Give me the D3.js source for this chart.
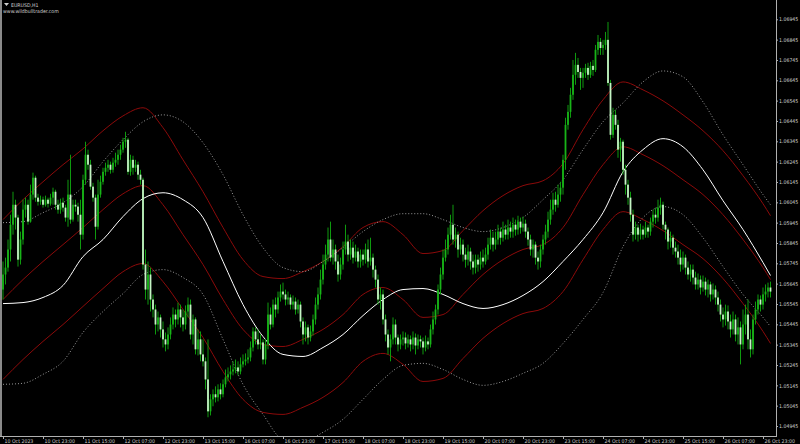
<!DOCTYPE html>
<html><head><meta charset="utf-8">
<script src="https://cdn.jsdelivr.net/npm/d3@7"></script>
<style>html,body{margin:0;padding:0;background:#000;overflow:hidden}</style>
</head><body><svg id="c" width="800" height="444"></svg>
<script>
const closes=[1.05690,1.05724,1.05813,1.05935,1.06033,1.05970,1.05763,1.05862,1.06009,1.06033,
1.05950,1.06083,1.06166,1.06068,1.06048,1.06058,1.06033,1.06058,1.06038,1.06068,
1.06097,1.06033,1.06009,1.06043,1.06019,1.05970,1.06083,1.05960,1.06033,1.06024,
1.05984,1.05886,1.06156,1.06279,1.06230,1.06122,1.06068,1.05925,1.06083,1.06146,
1.06195,1.06215,1.06230,1.06205,1.06240,1.06254,1.06279,1.06304,1.06343,1.06353,
1.06195,1.06254,1.06215,1.06230,1.06181,1.06156,1.05739,1.05616,1.05690,1.05567,
1.05518,1.05444,1.05479,1.05420,1.05371,1.05346,1.05395,1.05444,1.05493,1.05469,
1.05518,1.05479,1.05444,1.05508,1.05542,1.05395,1.05469,1.05322,1.05371,1.05297,
1.05263,1.05174,1.05017,1.05076,1.05101,1.05086,1.05125,1.05101,1.05150,1.05184,
1.05199,1.05213,1.05223,1.05233,1.05213,1.05248,1.05263,1.05272,1.05282,1.05331,
1.05410,1.05371,1.05346,1.05356,1.05272,1.05346,1.05493,1.05444,1.05542,1.05518,
1.05577,1.05606,1.05592,1.05567,1.05577,1.05542,1.05557,1.05518,1.05542,1.05459,
1.05395,1.05430,1.05380,1.05410,1.05469,1.05542,1.05592,1.05665,1.05739,1.05788,
1.05862,1.05773,1.05813,1.05754,1.05690,1.05739,1.05813,1.05852,1.05788,1.05822,
1.05773,1.05803,1.05754,1.05788,1.05763,1.05813,1.05754,1.05773,1.05714,1.05665,
1.05567,1.05592,1.05469,1.05395,1.05331,1.05371,1.05444,1.05380,1.05346,1.05371,
1.05380,1.05351,1.05371,1.05346,1.05380,1.05341,1.05371,1.05361,1.05331,1.05361,
1.05346,1.05420,1.05469,1.05518,1.05616,1.05690,1.05773,1.05813,1.05886,1.05935,
1.05862,1.05886,1.05813,1.05837,1.05788,1.05763,1.05803,1.05754,1.05724,1.05763,
1.05739,1.05773,1.05754,1.05788,1.05837,1.05871,1.05837,1.05862,1.05901,1.05871,
1.05911,1.05886,1.05921,1.05901,1.05935,1.05911,1.05950,1.05921,1.05940,1.05901,
1.05862,1.05813,1.05837,1.05773,1.05754,1.05813,1.05862,1.05901,1.05960,1.06009,
1.06058,1.06033,1.06083,1.06117,1.06254,1.06426,1.06490,1.06574,1.06672,1.06721,
1.06686,1.06657,1.06682,1.06706,1.06672,1.06716,1.06696,1.06795,1.06834,1.06804,
1.06819,1.06844,1.06632,1.06377,1.06475,1.06426,1.06304,1.06343,1.06205,1.06132,
1.06068,1.05984,1.05886,1.05921,1.05886,1.05911,1.05886,1.05921,1.05901,1.05950,
1.05984,1.05970,1.06019,1.06033,1.05935,1.05911,1.05852,1.05871,1.05822,1.05803,
1.05773,1.05739,1.05773,1.05724,1.05690,1.05714,1.05675,1.05641,1.05665,1.05626,
1.05655,1.05616,1.05641,1.05592,1.05616,1.05577,1.05542,1.05493,1.05469,1.05508,
1.05459,1.05420,1.05469,1.05395,1.05430,1.05346,1.05444,1.05493,1.05371,1.05322,
1.05469,1.05518,1.05567,1.05542,1.05592,1.05606,1.05626,1.05606];
const opens=[1.05616,1.05690,1.05724,1.05813,1.05935,1.06033,1.05970,1.05763,1.05862,1.06009,
1.06033,1.05950,1.06083,1.06166,1.06068,1.06048,1.06058,1.06033,1.06058,1.06038,
1.06068,1.06097,1.06033,1.06009,1.06043,1.06019,1.05970,1.06083,1.05960,1.06033,
1.06024,1.05984,1.05886,1.06156,1.06279,1.06230,1.06122,1.06068,1.05925,1.06083,
1.06146,1.06195,1.06215,1.06230,1.06205,1.06240,1.06254,1.06279,1.06304,1.06343,
1.06353,1.06195,1.06254,1.06215,1.06230,1.06181,1.06156,1.05739,1.05616,1.05690,
1.05567,1.05518,1.05444,1.05479,1.05420,1.05371,1.05346,1.05395,1.05444,1.05493,
1.05469,1.05518,1.05479,1.05444,1.05508,1.05542,1.05395,1.05469,1.05322,1.05371,
1.05297,1.05263,1.05174,1.05017,1.05076,1.05101,1.05086,1.05125,1.05101,1.05150,
1.05184,1.05199,1.05213,1.05223,1.05233,1.05213,1.05248,1.05263,1.05272,1.05282,
1.05331,1.05410,1.05371,1.05346,1.05356,1.05272,1.05346,1.05493,1.05444,1.05542,
1.05518,1.05577,1.05606,1.05592,1.05567,1.05577,1.05542,1.05557,1.05518,1.05542,
1.05459,1.05395,1.05430,1.05380,1.05410,1.05469,1.05542,1.05592,1.05665,1.05739,
1.05788,1.05862,1.05773,1.05813,1.05754,1.05690,1.05739,1.05813,1.05852,1.05788,
1.05822,1.05773,1.05803,1.05754,1.05788,1.05763,1.05813,1.05754,1.05773,1.05714,
1.05665,1.05567,1.05592,1.05469,1.05395,1.05331,1.05371,1.05444,1.05380,1.05346,
1.05371,1.05380,1.05351,1.05371,1.05346,1.05380,1.05341,1.05371,1.05361,1.05331,
1.05361,1.05346,1.05420,1.05469,1.05518,1.05616,1.05690,1.05773,1.05813,1.05886,
1.05935,1.05862,1.05886,1.05813,1.05837,1.05788,1.05763,1.05803,1.05754,1.05724,
1.05763,1.05739,1.05773,1.05754,1.05788,1.05837,1.05871,1.05837,1.05862,1.05901,
1.05871,1.05911,1.05886,1.05921,1.05901,1.05935,1.05911,1.05950,1.05921,1.05940,
1.05901,1.05862,1.05813,1.05837,1.05773,1.05754,1.05813,1.05862,1.05901,1.05960,
1.06009,1.06058,1.06033,1.06083,1.06117,1.06254,1.06426,1.06490,1.06574,1.06672,
1.06721,1.06686,1.06657,1.06682,1.06706,1.06672,1.06716,1.06696,1.06795,1.06834,
1.06804,1.06819,1.06844,1.06632,1.06377,1.06475,1.06426,1.06304,1.06343,1.06205,
1.06132,1.06068,1.05984,1.05886,1.05921,1.05886,1.05911,1.05886,1.05921,1.05901,
1.05950,1.05984,1.05970,1.06019,1.06033,1.05935,1.05911,1.05852,1.05871,1.05822,
1.05803,1.05773,1.05739,1.05773,1.05724,1.05690,1.05714,1.05675,1.05641,1.05665,
1.05626,1.05655,1.05616,1.05641,1.05592,1.05616,1.05577,1.05542,1.05493,1.05469,
1.05508,1.05459,1.05420,1.05469,1.05395,1.05430,1.05346,1.05444,1.05493,1.05371,
1.05322,1.05469,1.05518,1.05567,1.05542,1.05592,1.05606,1.05626];
const highs=[1.05754,1.05773,1.05862,1.05984,1.06097,1.06058,1.05984,1.05901,1.06058,1.06068,
1.06058,1.06132,1.06191,1.06176,1.06087,1.06078,1.06073,1.06078,1.06068,1.06087,
1.06117,1.06107,1.06058,1.06063,1.06068,1.06033,1.06156,1.06279,1.06058,1.06058,
1.06043,1.06058,1.06181,1.06343,1.06304,1.06254,1.06141,1.06083,1.06156,1.06176,
1.06215,1.06240,1.06254,1.06245,1.06264,1.06289,1.06304,1.06328,1.06362,1.06392,
1.06362,1.06279,1.06274,1.06254,1.06245,1.06205,1.06166,1.05813,1.05754,1.05724,
1.05592,1.05542,1.05508,1.05493,1.05459,1.05405,1.05430,1.05479,1.05528,1.05518,
1.05552,1.05542,1.05518,1.05538,1.05577,1.05567,1.05493,1.05479,1.05420,1.05410,
1.05371,1.05282,1.05371,1.05101,1.05125,1.05140,1.05150,1.05155,1.05174,1.05223,
1.05233,1.05243,1.05263,1.05272,1.05263,1.05282,1.05297,1.05302,1.05322,1.05361,
1.05430,1.05430,1.05420,1.05395,1.05371,1.05371,1.05552,1.05528,1.05567,1.05577,
1.05606,1.05641,1.05650,1.05616,1.05606,1.05592,1.05587,1.05577,1.05567,1.05557,
1.05479,1.05459,1.05444,1.05439,1.05493,1.05577,1.05626,1.05714,1.05788,1.05837,
1.05921,1.05950,1.05862,1.05837,1.05788,1.05773,1.05852,1.05935,1.05886,1.05862,
1.05852,1.05837,1.05822,1.05813,1.05813,1.05842,1.05862,1.05871,1.05793,1.05734,
1.05690,1.05626,1.05616,1.05493,1.05420,1.05395,1.05479,1.05469,1.05395,1.05395,
1.05410,1.05405,1.05395,1.05390,1.05410,1.05400,1.05395,1.05390,1.05380,1.05390,
1.05380,1.05444,1.05508,1.05542,1.05641,1.05724,1.05813,1.05862,1.05921,1.05984,
1.06033,1.05921,1.05901,1.05871,1.05862,1.05822,1.05837,1.05822,1.05788,1.05788,
1.05788,1.05803,1.05813,1.05822,1.05871,1.05911,1.05901,1.05901,1.05935,1.05921,
1.05950,1.05935,1.05960,1.05950,1.05970,1.05960,1.05979,1.05970,1.05975,1.05960,
1.05921,1.05886,1.05862,1.05852,1.05803,1.05837,1.05886,1.05935,1.05999,1.06058,
1.06092,1.06097,1.06132,1.06146,1.06279,1.06461,1.06524,1.06608,1.06745,1.06780,
1.06755,1.06706,1.06706,1.06726,1.06731,1.06736,1.06745,1.06819,1.06868,1.06853,
1.06844,1.06883,1.06932,1.06647,1.06510,1.06500,1.06451,1.06362,1.06353,1.06230,
1.06156,1.06097,1.06009,1.05950,1.05935,1.05940,1.05930,1.05950,1.05935,1.05970,
1.06009,1.06019,1.06058,1.06068,1.06048,1.05950,1.05921,1.05901,1.05886,1.05852,
1.05837,1.05813,1.05803,1.05788,1.05754,1.05739,1.05739,1.05704,1.05695,1.05685,
1.05685,1.05675,1.05665,1.05655,1.05646,1.05636,1.05606,1.05567,1.05528,1.05542,
1.05538,1.05493,1.05508,1.05493,1.05479,1.05459,1.05518,1.05542,1.05567,1.05420,
1.05493,1.05557,1.05592,1.05587,1.05626,1.05641,1.05650,1.05655];
const lows=[1.05567,1.05641,1.05704,1.05754,1.05886,1.05911,1.05729,1.05739,1.05837,1.05970,
1.05935,1.05945,1.06058,1.06048,1.06029,1.06033,1.06019,1.06024,1.06019,1.06029,
1.06033,1.06009,1.05989,1.05989,1.05999,1.05950,1.05925,1.05940,1.05950,1.05999,
1.05950,1.05813,1.05862,1.06132,1.06205,1.06107,1.06048,1.05862,1.05911,1.06068,
1.06132,1.06176,1.06195,1.06186,1.06191,1.06220,1.06230,1.06254,1.06289,1.06313,
1.06181,1.06176,1.06181,1.06195,1.06156,1.06132,1.05714,1.05567,1.05542,1.05508,
1.05479,1.05395,1.05410,1.05380,1.05331,1.05312,1.05322,1.05371,1.05420,1.05430,
1.05444,1.05430,1.05410,1.05420,1.05479,1.05371,1.05346,1.05297,1.05292,1.05263,
1.05238,1.05125,1.04988,1.04997,1.05042,1.05061,1.05066,1.05076,1.05086,1.05135,
1.05164,1.05174,1.05194,1.05204,1.05194,1.05199,1.05233,1.05243,1.05253,1.05263,
1.05312,1.05346,1.05322,1.05322,1.05248,1.05248,1.05322,1.05420,1.05430,1.05479,
1.05498,1.05557,1.05567,1.05538,1.05542,1.05518,1.05518,1.05493,1.05498,1.05430,
1.05346,1.05361,1.05346,1.05361,1.05390,1.05444,1.05518,1.05567,1.05641,1.05714,
1.05754,1.05754,1.05739,1.05714,1.05655,1.05665,1.05714,1.05788,1.05754,1.05763,
1.05744,1.05754,1.05724,1.05724,1.05734,1.05744,1.05724,1.05734,1.05675,1.05626,
1.05542,1.05518,1.05444,1.05361,1.05297,1.05263,1.05346,1.05346,1.05312,1.05322,
1.05341,1.05322,1.05331,1.05312,1.05322,1.05297,1.05322,1.05331,1.05297,1.05312,
1.05322,1.05331,1.05395,1.05444,1.05493,1.05592,1.05665,1.05754,1.05788,1.05862,
1.05837,1.05822,1.05773,1.05788,1.05754,1.05724,1.05734,1.05714,1.05690,1.05695,
1.05704,1.05714,1.05724,1.05739,1.05763,1.05813,1.05803,1.05813,1.05837,1.05837,
1.05852,1.05862,1.05862,1.05871,1.05871,1.05881,1.05886,1.05891,1.05901,1.05871,
1.05832,1.05783,1.05773,1.05739,1.05714,1.05724,1.05788,1.05837,1.05871,1.05935,
1.05984,1.05999,1.06019,1.06048,1.06083,1.06205,1.06402,1.06461,1.06549,1.06623,
1.06657,1.06598,1.06608,1.06657,1.06647,1.06657,1.06667,1.06686,1.06770,1.06770,
1.06770,1.06795,1.06618,1.06353,1.06362,1.06402,1.06264,1.06245,1.06181,1.06083,
1.06033,1.05950,1.05852,1.05862,1.05852,1.05862,1.05862,1.05871,1.05871,1.05881,
1.05921,1.05940,1.05950,1.05984,1.05911,1.05862,1.05813,1.05822,1.05788,1.05773,
1.05739,1.05704,1.05714,1.05690,1.05665,1.05655,1.05641,1.05616,1.05616,1.05592,
1.05606,1.05587,1.05577,1.05557,1.05567,1.05542,1.05508,1.05459,1.05430,1.05439,
1.05420,1.05380,1.05395,1.05361,1.05346,1.05248,1.05322,1.05395,1.05322,1.05282,
1.05297,1.05444,1.05493,1.05508,1.05518,1.05557,1.05577,1.05577];

const timeTickIdx=[0,16,32,48,64,80,96,112,128,144,160,176,192,208,224,240,256,272,288,304];
const timeTickLabels=["10 Oct 2023","10 Oct 23:00","11 Oct 15:00","12 Oct 07:00","12 Oct 23:00","13 Oct 15:00","16 Oct 07:00","16 Oct 23:00","17 Oct 15:00","18 Oct 07:00","18 Oct 23:00","19 Oct 15:00","20 Oct 07:00","20 Oct 23:00","23 Oct 15:00","24 Oct 07:00","24 Oct 23:00","25 Oct 15:00","26 Oct 07:00","26 Oct 23:00"];
const priceTicks=[1.04945,1.05045,1.05145,1.05245,1.05345,1.05445,1.05545,1.05645,1.05745,1.05845,1.05945,1.06045,1.06145,1.06245,1.06345,1.06445,1.06545,1.06645,1.06745,1.06845,1.06945];

const lineIdx=[0,8,16,24,32,40,48,56,64,72,80,88,96,104,112,120,128,136,144,152,160,168,176,184,192,200,208,216,224,232,240,248,256,264,272,280,288,296,304,307];
const centerLine=[1.05547,1.05552,1.05577,1.05636,1.05778,1.05862,1.05975,1.06063,1.06092,1.06058,1.05970,1.05754,1.05542,1.05385,1.05297,1.05287,1.05331,1.05395,1.05488,1.05567,1.05616,1.05621,1.05592,1.05547,1.05523,1.05542,1.05587,1.05655,1.05754,1.05862,1.05994,1.06195,1.06304,1.06358,1.06318,1.06205,1.06053,1.05911,1.05749,1.05685];
const upperDotted=[1.05945,1.05950,1.05994,1.06043,1.06122,1.06245,1.06353,1.06441,1.06475,1.06441,1.06338,1.06181,1.05984,1.05822,1.05724,1.05704,1.05754,1.05822,1.05901,1.05960,1.05989,1.05989,1.05960,1.05921,1.05901,1.05921,1.05970,1.06058,1.06156,1.06304,1.06441,1.06534,1.06637,1.06691,1.06662,1.06539,1.06377,1.06230,1.06083,1.06033];
const lowerDotted=[1.05150,1.05155,1.05199,1.05263,1.05405,1.05508,1.05596,1.05690,1.05714,1.05675,1.05592,1.05371,1.05150,1.05002,1.04880,1.04870,1.04914,1.04978,1.05076,1.05174,1.05243,1.05253,1.05223,1.05174,1.05145,1.05164,1.05204,1.05253,1.05351,1.05469,1.05601,1.05827,1.05970,1.06024,1.05984,1.05871,1.05729,1.05592,1.05479,1.05434];
const redUpper=[1.05960,1.06058,1.06146,1.06230,1.06308,1.06397,1.06470,1.06510,1.06412,1.06254,1.06097,1.05921,1.05763,1.05680,1.05670,1.05704,1.05754,1.05827,1.05921,1.05950,1.05886,1.05793,1.05808,1.05906,1.06004,1.06078,1.06127,1.06151,1.06235,1.06402,1.06549,1.06637,1.06598,1.06544,1.06475,1.06397,1.06299,1.06176,1.06038,1.05979];
const redMid=[1.05567,1.05665,1.05754,1.05837,1.05921,1.06009,1.06087,1.06127,1.06033,1.05886,1.05739,1.05567,1.05420,1.05346,1.05336,1.05371,1.05420,1.05493,1.05592,1.05626,1.05567,1.05479,1.05493,1.05592,1.05690,1.05763,1.05813,1.05837,1.05921,1.06083,1.06230,1.06318,1.06279,1.06225,1.06156,1.06083,1.05984,1.05862,1.05724,1.05665];
const redLower=[1.05174,1.05272,1.05361,1.05444,1.05533,1.05621,1.05704,1.05744,1.05655,1.05518,1.05380,1.05213,1.05076,1.05012,1.05002,1.05037,1.05086,1.05159,1.05263,1.05302,1.05248,1.05164,1.05179,1.05277,1.05376,1.05449,1.05498,1.05523,1.05606,1.05763,1.05911,1.05999,1.05960,1.05906,1.05837,1.05768,1.05670,1.05547,1.05410,1.05351];

const svg=d3.select("#c");
const plotR=776, plotB=436;
const x=d3.scaleLinear().domain([0,307]).range([3,770.5]);
const y=d3.scaleLinear().domain([1.04945,1.06945]).range([426,19.3]);
const FONT='"Liberation Sans Narrow","DejaVu Sans Condensed","Arial Narrow",sans-serif';
const FS="5.2px";

svg.append("rect").attr("width",800).attr("height",444).attr("fill","#000");
svg.append("defs").append("clipPath").attr("id","clip").append("rect")
  .attr("x",2).attr("y",0).attr("width",plotR-2).attr("height",plotB);
const g=svg.append("g").attr("clip-path","url(#clip)");

const mk=(arr)=>d3.line().x((d,i)=>x(lineIdx[i])).y(d=>y(d)).curve(d3.curveMonotoneX)(arr);
const lineStyles=[
  [redUpper,"#8c0a0a",null],[redMid,"#8c0a0a",null],[redLower,"#8c0a0a",null],
  [upperDotted,"#9a9a9a","1,2"],[lowerDotted,"#9a9a9a","1,2"],[centerLine,"#ffffff",null]
];
lineStyles.forEach(([arr,col,dash])=>{
  const p=g.append("path").attr("d",mk(arr)).attr("fill","none").attr("stroke",col).attr("stroke-width",1);
  if(dash) p.attr("stroke-dasharray",dash);
});

const idx=d3.range(closes.length);
g.selectAll("rect.w").data(idx).join("rect").attr("class","w")
  .attr("x",i=>x(i)-0.5).attr("width",1)
  .attr("y",i=>y(highs[i])).attr("height",i=>Math.max(1,y(lows[i])-y(highs[i])))
  .attr("fill","#0e9a0e");
g.selectAll("rect.b").data(idx).join("rect").attr("class","b")
  .attr("x",i=>x(i)-0.9).attr("width",1.8)
  .attr("y",i=>y(Math.max(opens[i],closes[i])))
  .attr("height",i=>Math.max(1,Math.abs(y(opens[i])-y(closes[i]))))
  .attr("fill",i=>closes[i]<opens[i]?"#c4f5c4":"#18b418");

svg.append("rect").attr("x",0).attr("y",0).attr("width",2).attr("height",plotB).attr("fill","#8a8a8a");

const ya=svg.append("g").attr("transform",`translate(${plotR},0)`)
  .call(d3.axisRight(y).tickValues(priceTicks).tickFormat(d3.format(".5f")).tickSize(2).tickPadding(1));
ya.select(".domain").remove();
ya.append("line").attr("x1",0.5).attr("x2",0.5).attr("y1",0).attr("y2",plotB).attr("stroke","#b0b0b0");
ya.selectAll(".tick line").attr("stroke","#b0b0b0");
ya.selectAll("text").attr("fill","#d0d0d0").style("font-family",FONT).style("font-size",FS);

const xa=svg.append("g").attr("transform",`translate(0,${plotB})`)
  .call(d3.axisBottom(x).tickValues(timeTickIdx).tickFormat((d,i)=>timeTickLabels[i]).tickSize(3).tickPadding(1));
xa.select(".domain").remove();
xa.append("line").attr("x1",0).attr("x2",plotR+1).attr("y1",0.5).attr("y2",0.5).attr("stroke","#b0b0b0");
xa.selectAll(".tick line").attr("stroke","#b0b0b0");
xa.selectAll("text").attr("fill","#d0d0d0").attr("text-anchor","start").attr("dx","1px").attr("dy","0.5em")
  .style("font-family",FONT).style("font-size",FS);

svg.append("path").attr("d","M4,3 L9,3 L6.5,6 Z").attr("fill","#d0d0d0");
svg.append("text").attr("x",11).attr("y",7).attr("fill","#d0d0d0").style("font-family",FONT).style("font-size",FS).text("EURUSD,H1");
svg.append("text").attr("x",3).attr("y",13).attr("fill","#d0d0d0").style("font-family",FONT).style("font-size",FS).text("www.wildbulltrader.com");
</script></body></html>
